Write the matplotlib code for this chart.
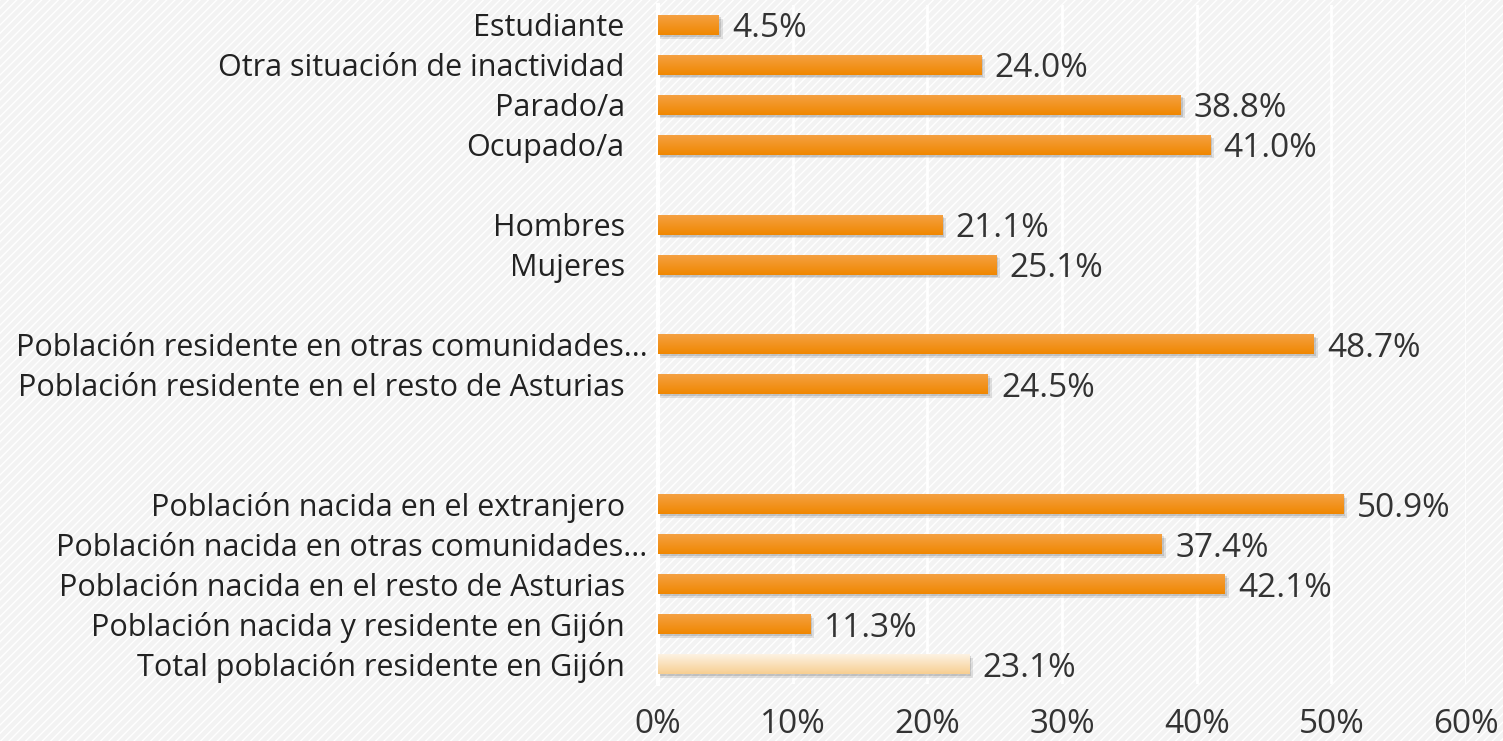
import matplotlib.pyplot as plt
import matplotlib.transforms as mtransforms
import numpy as np

# Data (bottom to top, '' = empty slot)
labels = ['Total población residente en Gijón',
          'Población nacida y residente en Gijón',
          'Población nacida en el resto de Asturias',
          'Población nacida en otras comunidades...',
          'Población nacida en el extranjero',
          '', '',
          'Población residente en el resto de Asturias',
          'Población residente en otras comunidades...',
          '',
          'Mujeres',
          'Hombres',
          '',
          'Ocupado/a',
          'Parado/a',
          'Otra situación de inactividad',
          'Estudiante']
values = [23.1, 11.3, 42.1, 37.4, 50.9, None, None, 24.5, 48.7, None,
          25.1, 21.1, None, 41.0, 38.8, 24.0, 4.5]
xticks = [0, 10, 20, 30, 40, 50, 60]

plt.rcParams['font.family'] = ['Open Sans', 'DejaVu Sans']

fig = plt.figure(figsize=(15.03, 7.41), dpi=100)
fig.patch.set_facecolor('#f3f3f3')
# hatched background
bg = plt.Rectangle((0, 0), 1, 1, transform=fig.transFigure, facecolor='#f3f3f3',
                   edgecolor='white', hatch='////', linewidth=0, zorder=-10)
fig.patches.append(bg)

ax = fig.add_axes([658 / 1503, 1 - 684 / 741, (1466 - 658) / 1503, (684 - 5) / 741])
ax.set_facecolor('none')

for x in xticks:
    ax.axvline(x, color='white', linewidth=2, zorder=1)

h = 0.5
orange = np.array([[0.96, 0.63, 0.26], [0.94, 0.53, 0.0]])
pale = np.array([[0.99, 0.95, 0.89], [0.97, 0.81, 0.57]])
for i, v in enumerate(values):
    if v is None:
        continue
    cols = pale if i == 0 else orange
    # soft shadow under the bar
    ax.barh(i - 0.09, v + 0.3, height=h, color='#000000', alpha=0.10, zorder=2)
    ax.barh(i - 0.05, v + 0.15, height=h, color='#000000', alpha=0.12, zorder=2)
    grad = np.linspace(0, 1, 50)[:, None]
    img = (cols[0] + (cols[1] - cols[0]) * grad).reshape(50, 1, 3)
    ax.imshow(img, extent=(0, v, i - h / 2, i + h / 2), origin='upper',
              aspect='auto', zorder=3, interpolation='bilinear')
    ax.text(v + 1.0, i - 0.1, f'{v:.1f}%', fontsize=24, color='#333333',
            va='center', ha='left', zorder=4)

ax.set_ylim(-0.5, len(labels) - 0.5)
ax.set_xlim(0, 60)
ax.set_yticks(range(len(labels)))
ax.set_yticklabels(labels, fontsize=22, color='#222222')
ax.set_xticks(xticks)
ax.set_xticklabels([f'{x}%' for x in xticks], fontsize=24, color='#333333')
ax.tick_params(axis='both', length=0)
ax.tick_params(axis='y', pad=24)
ax.tick_params(axis='x', pad=17)
for s in ['top', 'right', 'bottom']:
    ax.spines[s].set_visible(False)
ax.spines['left'].set_color('white')
ax.spines['left'].set_linewidth(3)

# truncated labels sit a bit further right, as in the source chart
shift = mtransforms.ScaledTranslation(0.23, 0, fig.dpi_scale_trans)
for t in ax.get_yticklabels():
    if t.get_text().endswith('...'):
        t.set_transform(t.get_transform() + shift)

fig.savefig('out.png', dpi=100)
